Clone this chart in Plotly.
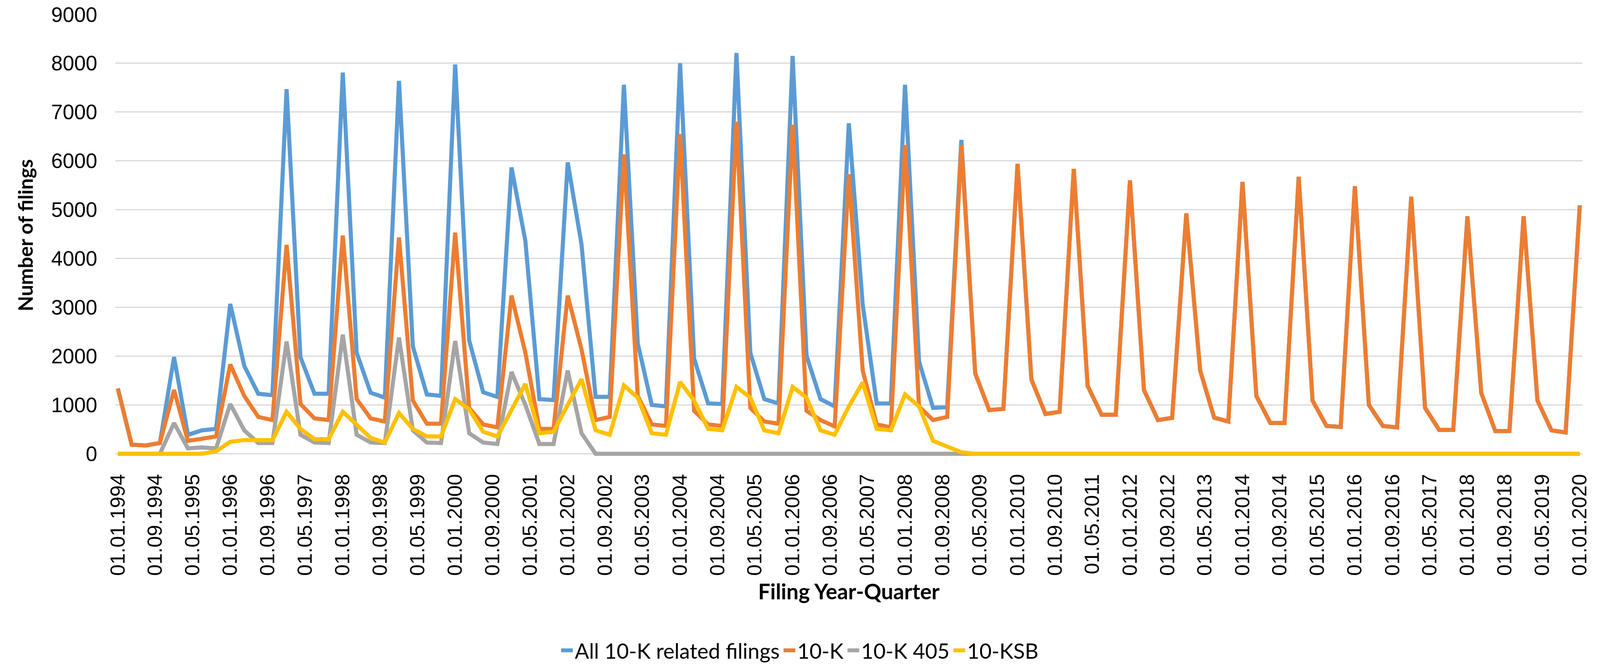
import pandas as pd
import plotly.graph_objects as go

# Quarterly filing dates 1994Q1 .. 2020Q1
quarters = pd.date_range("1994-01-01", "2020-01-01", freq="QS")

all_10k = [
    1340, 185, 170, 220, 1980, 387, 480, 510,
    3070, 1800, 1230, 1200, 7470, 1980, 1230, 1230,
    7810, 2070, 1250, 1150, 7640, 2200, 1215, 1185,
    7975, 2320, 1260, 1165, 5865, 4360, 1120, 1100,
    5970, 4280, 1165, 1165, 7560, 2260, 1000, 970,
    8000, 1950, 1030, 1020, 8210, 2070, 1120, 1030,
    8150, 2010, 1120, 970, 6770, 3055, 1030, 1030,
    7560, 1890, 940, 955, 6430, 1645, 895, 920,
    5940, 1520, 815, 860, 5835, 1390, 800, 800,
    5600, 1305, 690, 735, 4925, 1705, 740, 660,
    5570, 1185, 630, 630, 5675, 1090, 570, 550,
    5480, 1000, 570, 540, 5265, 940, 490, 490,
    4865, 1245, 465, 465, 4865, 1090, 480, 435,
    5090,
]

ten_k = [
    1330, 185, 170, 220, 1307, 264, 307, 356,
    1830, 1185, 755, 690, 4280, 1020, 725, 690,
    4470, 1120, 725, 660, 4430, 1090, 615, 615,
    4530, 940, 600, 540, 3240, 2070, 510, 510,
    3240, 2135, 690, 755, 6135, 1185, 600, 570,
    6550, 880, 600, 570, 6800, 940, 660, 615,
    6740, 880, 690, 560, 5725, 1705, 600, 540,
    6325, 970, 690, 755, 6325, 1645, 895, 920,
    5940, 1520, 815, 860, 5835, 1390, 800, 800,
    5600, 1305, 690, 735, 4925, 1705, 740, 660,
    5570, 1185, 630, 630, 5675, 1090, 570, 550,
    5480, 1000, 570, 540, 5265, 940, 490, 490,
    4865, 1245, 465, 465, 4865, 1090, 480, 435,
    5090,
]

ten_k_405 = [
    0, 0, 0, 0, 630, 110, 130, 110,
    1020, 480, 220, 220, 2300, 390, 230, 220,
    2440, 390, 230, 220, 2380, 480, 230, 220,
    2310, 420, 230, 200, 1675, 1000, 200, 200,
    1705, 420, 0, 0, 0, 0, 0, 0,
    0, 0, 0, 0, 0, 0, 0, 0,
    0, 0, 0, 0, 0, 0, 0, 0,
    0, 0, 0, 0, 0, 0, 0, 0,
    0, 0, 0, 0, 0, 0, 0, 0,
    0, 0, 0, 0, 0, 0, 0, 0,
    0, 0, 0, 0, 0, 0, 0, 0,
    0, 0, 0, 0, 0, 0, 0, 0,
    0, 0, 0, 0, 0, 0, 0, 0,
    0,
]

ten_ksb = [
    0, 0, 0, 0, 0, 0, 0, 50,
    245, 280, 280, 280, 860, 510, 300, 300,
    860, 600, 325, 230, 835, 510, 355, 355,
    1120, 910, 450, 355, 910, 1430, 420, 450,
    1000, 1530, 480, 390, 1400, 1150, 420, 390,
    1470, 1090, 510, 480, 1370, 1150, 480, 420,
    1370, 1150, 480, 390, 970, 1460, 510, 480,
    1215, 970, 265, 140, 30, 0, 0, 0,
    0, 0, 0, 0, 0, 0, 0, 0,
    0, 0, 0, 0, 0, 0, 0, 0,
    0, 0, 0, 0, 0, 0, 0, 0,
    0, 0, 0, 0, 0, 0, 0, 0,
    0, 0, 0, 0, 0, 0, 0, 0,
    0,
]

series_names = ["All 10-K related filings", "10-K", "10-K 405", "10-KSB"]
series_values = [all_10k, ten_k, ten_k_405, ten_ksb]
series_colors = ["#5B9BD5", "#ED7D31", "#A5A5A5", "#FFC000"]

fig = go.Figure()
for name, vals, col in zip(series_names, series_values, series_colors):
    fig.add_trace(go.Scatter(
        x=quarters, y=vals, name=name, mode="lines",
        line=dict(color=col, width=10.5),
    ))

fig.update_layout(
    autosize=True,
    margin=dict(l=295, r=45, t=37, b=553, autoexpand=False),
    plot_bgcolor="white", paper_bgcolor="white",
    font=dict(family="Liberation Sans, Arial, sans-serif", color="#000000", size=52),
    legend=dict(
        orientation="h", xref="container", yref="container",
        x=0.5, xanchor="center", y=0.032, yanchor="middle",
        font=dict(family="Lato, Liberation Sans, sans-serif", size=54, color="#000000"),
        itemwidth=30, tracegroupgap=0,
    ),
    showlegend=True,
)

fig.update_xaxes(
    type="date",
    range=["1993-12-15", "2020-01-18"],
    tick0="1994-01-01", dtick="M8", tickformat="%d.%m.%Y",
    tickangle=-90,
    tickfont=dict(family="Liberation Sans, Arial, sans-serif", size=52, color="#000000"),
    ticklabelstandoff=35,
    showgrid=False, showline=False, zeroline=False, ticks="",
    title=dict(text="<b>Filing Year-Quarter</b>",
               font=dict(family="Lato, Liberation Sans, sans-serif", size=55, color="#000000"),
               standoff=22),
)

fig.update_yaxes(
    range=[-45, 9000],
    tick0=0, dtick=1000,
    tickfont=dict(family="Liberation Sans, Arial, sans-serif", size=53, color="#000000"),
    ticklabelstandoff=45,
    showgrid=True, gridcolor="#D9D9D9", gridwidth=3,
    zeroline=True, zerolinecolor="#D9D9D9", zerolinewidth=3,
    showline=False, ticks="",
    title=dict(text="<b>Number of filings</b>",
               font=dict(family="Lato, Liberation Sans, sans-serif", size=51, color="#000000"),
               standoff=30),
)

fig.write_html(
    "out.html",
    default_width="100vw",
    default_height="100vh",
    config={"responsive": True, "displayModeBar": False},
    post_script="document.body.style.margin='0';document.body.style.overflow='hidden';",
)
